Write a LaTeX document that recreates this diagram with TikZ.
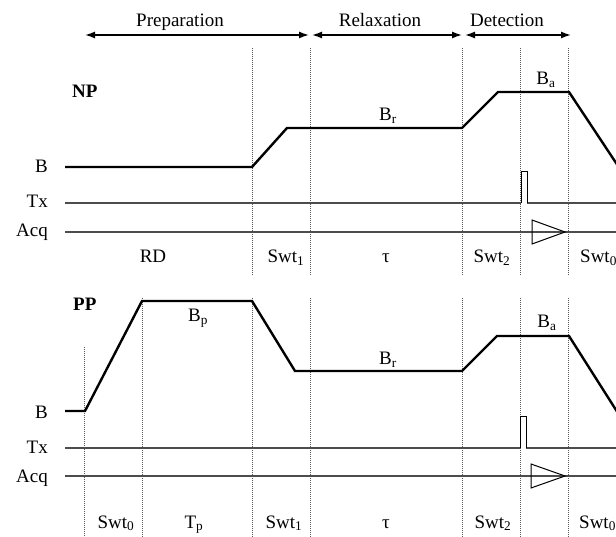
\documentclass[tikz,border=0pt]{standalone}
\usepackage{fontspec}
\setmainfont{Liberation Serif}
\usetikzlibrary{arrows.meta}
\begin{document}
\begin{tikzpicture}[x=1pt,y=-1pt,
  field/.style={line width=2.4pt, line join=miter},
  chan/.style={line width=1.3pt, draw=black!70},
  guide/.style={line width=0.6pt, draw=black!65, dash pattern=on 1pt off 1pt},
  phase/.style={line width=1.4pt, {Latex[length=10pt,width=7pt]}-{Latex[length=10pt,width=7pt]}},
  pulse/.style={line width=0.9pt},
  acqmark/.style={line width=1pt},
  lbl/.style={font=\fontsize{19}{22}\selectfont, inner sep=0pt, anchor=base},
  rowlbl/.style={lbl, anchor=base east},
  seqlbl/.style={lbl, anchor=base west, font=\fontsize{19}{22}\selectfont\bfseries},
]
\useasboundingbox (0,0) rectangle (616,537);
\clip (0,0) rectangle (616,537);

% ---- phase arrows along the top ----
\coordinate (prepA) at (85,35);  \coordinate (prepB) at (309,35);
\coordinate (relA)  at (312,35); \coordinate (relB)  at (462,35);
\coordinate (detA)  at (465,35); \coordinate (detB)  at (571,35);
\draw[phase] (prepA) -- (prepB);
\draw[phase] (relA) -- (relB);
\draw[phase] (detA) -- (detB);
\node[lbl] (tPrep) at (180,27) {Preparation};
\node[lbl] (tRel)  at (380,27) {Relaxation};
\node[lbl] (tDet)  at (507,27) {Detection};

% ---- NP sequence ----
\foreach \gx in {252,310,462,520,568}
  \draw[guide] (\gx,48) -- (\gx,275);
\node[seqlbl] (np) at (72,98) {NP};
\node[rowlbl] (npB)   at (48,173) {B};
\node[rowlbl] (npTx)  at (48,208) {Tx};
\node[rowlbl] (npAcq) at (48,237) {Acq};

\draw[field] (65,167) -- (252,167) -- (287,128) -- (462,128) -- (498,92)
  -- (569,92) -- (630,184);
\draw[chan] (65,203) -- (521,203);
\draw[chan] (527,203) -- (616,203);
\draw[pulse] (521,203) -- (521,171) -- (527,171) -- (527,203);
\draw[chan] (65,232) -- (616,232);
\draw[acqmark] (532,220) -- (532,244) -- (565,232) -- cycle;

\node[lbl] (npBr) at (388,121) {B\textsubscript{r}};
\node[lbl] (npBa) at (546,85)  {B\textsubscript{a}};
\node[lbl] (npRD)   at (153,263) {RD};
\node[lbl] (npS1)   at (286,263) {Swt\textsubscript{1}};
\node[lbl] (npTau)  at (386,263) {τ};
\node[lbl] (npS2)   at (492,263) {Swt\textsubscript{2}};
\node[lbl, anchor=base west] (npS0) at (580,263) {Swt\textsubscript{0}};

% ---- PP sequence ----
\draw[guide] (84,347) -- (84,537);
\foreach \gx in {142,252,310,462,520,568}
  \draw[guide] (\gx,298) -- (\gx,537);
\node[seqlbl] (pp) at (73,311) {PP};
\node[rowlbl] (ppB)   at (48,418) {B};
\node[rowlbl] (ppTx)  at (48,453) {Tx};
\node[rowlbl] (ppAcq) at (48,482) {Acq};

\draw[field] (65,411) -- (85,411) -- (142,301) -- (252,301) -- (295,371)
  -- (462,371) -- (497,336) -- (569,336) -- (630,432);
\draw[chan] (65,448) -- (520,448);
\draw[chan] (526,448) -- (616,448);
\draw[pulse] (520,448) -- (520,416) -- (526,416) -- (526,448);
\draw[chan] (65,476) -- (616,476);
\draw[acqmark] (531,464) -- (531,488) -- (565,476) -- cycle;

\node[lbl] (ppBp) at (198,322) {B\textsubscript{p}};
\node[lbl] (ppBr) at (388,365) {B\textsubscript{r}};
\node[lbl] (ppBa) at (547,328) {B\textsubscript{a}};
\node[lbl] (ppS0a) at (116,528) {Swt\textsubscript{0}};
\node[lbl] (ppTp)  at (194,528) {T\textsubscript{p}};
\node[lbl] (ppS1)  at (284,528) {Swt\textsubscript{1}};
\node[lbl] (ppTau) at (386,528) {τ};
\node[lbl] (ppS2)  at (493,528) {Swt\textsubscript{2}};
\node[lbl, anchor=base west] (ppS0b) at (579,528) {Swt\textsubscript{0}};
\end{tikzpicture}
\end{document}
